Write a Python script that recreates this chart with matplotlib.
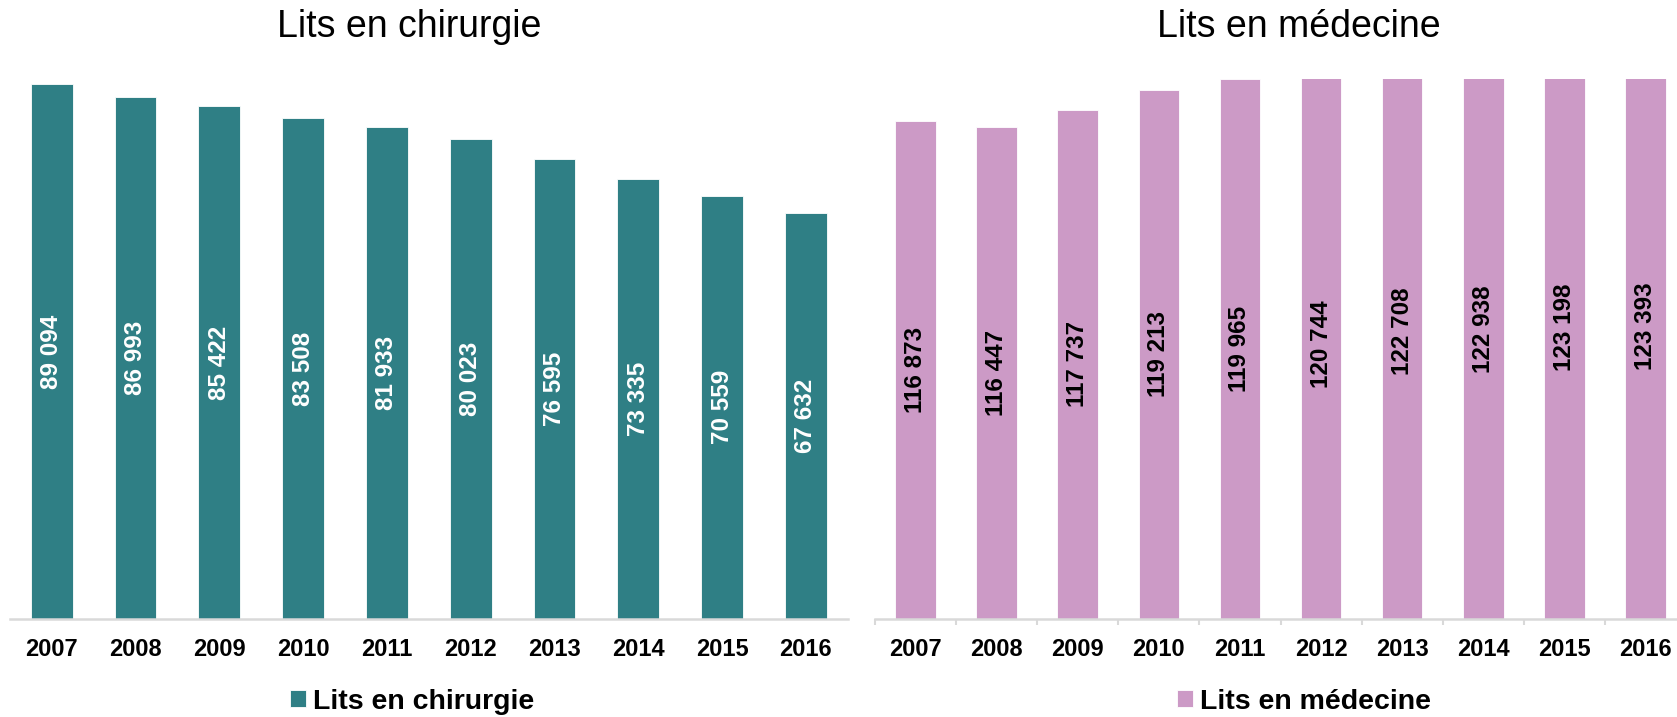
import matplotlib.pyplot as plt
import numpy as np

plt.rcParams['font.family'] = ['Liberation Sans', 'DejaVu Sans']

annees = ['2007', '2008', '2009', '2010', '2011', '2012', '2013', '2014', '2015', '2016']
chirurgie = [89094, 86993, 85422, 83508, 81933, 80023, 76595, 73335, 70559, 67632]
medecine = [116873, 116447, 117737, 119213, 119965, 120744, 122708, 122938, 123198, 123393]

couleur_chir = '#2F7F85'
couleur_med = '#CC9AC6'
gris_axe = '#D9D9D9'

W, H = 1677, 717
fig = plt.figure(figsize=(W / 100, H / 100), dpi=100)


def fmt(v):
    return f'{v:,}'.replace(',', ' ')


def panneau(rect, valeurs, couleur, ymin, ymax, couleur_txt, avec_ticks):
    ax = fig.add_axes(rect)
    x = np.arange(len(annees))
    barres = ax.bar(x, valeurs, width=0.5, color=couleur, edgecolor='white', linewidth=0.6)
    ax.set_xlim(-0.5, len(annees) - 0.5)
    ax.set_ylim(ymin, ymax)
    # étiquettes au milieu de la barre
    for i, v in enumerate(valeurs):
        ax.text(i, (ymin + v) / 2, fmt(v), rotation=90, ha='center', va='center',
                fontsize=17.5, fontweight='bold', color=couleur_txt)
    for s in ['top', 'right', 'left']:
        ax.spines[s].set_visible(False)
    ax.spines['bottom'].set_color(gris_axe)
    ax.spines['bottom'].set_linewidth(1.8)
    ax.set_yticks([])
    ax.set_xticks(x)
    ax.set_xticklabels(annees, fontsize=17, fontweight='bold')
    if avec_ticks:
        ax.set_xticks(np.arange(len(annees) + 1) - 0.5, minor=True)
        ax.tick_params(axis='x', which='minor', length=4.5, width=1.5, color=gris_axe)
    ax.tick_params(axis='x', which='major', length=0, pad=13.5)
    return ax, barres


bas = (H - 619) / H
haut = 540 / H
ax1, b1 = panneau([9.8 / W, bas, 838 / W, haut], chirurgie, couleur_chir, 0, 90000, 'white', False)
ax2, b2 = panneau([875 / W, bas, 811 / W, haut], medecine, couleur_med, 80000, 120000, 'black', True)

# titres
fig.text(409 / W, (H - 37) / H, 'Lits en chirurgie', fontsize=27, ha='center', va='baseline')
fig.text(1299 / W, (H - 37) / H, 'Lits en médecine', fontsize=27, ha='center', va='baseline')

# légendes
for barres, nom, cx in [(b1, 'Lits en chirurgie', 412), (b2, 'Lits en médecine', 1304)]:
    fig.legend([barres], [nom], loc='center', bbox_to_anchor=(cx / W, (H - 701.7) / H),
               frameon=False, prop={'size': 20.5, 'weight': 'bold'},
               handlelength=0.55, handleheight=0.55, handletextpad=0.25, borderpad=0)

fig.savefig('out.png', dpi=100)
